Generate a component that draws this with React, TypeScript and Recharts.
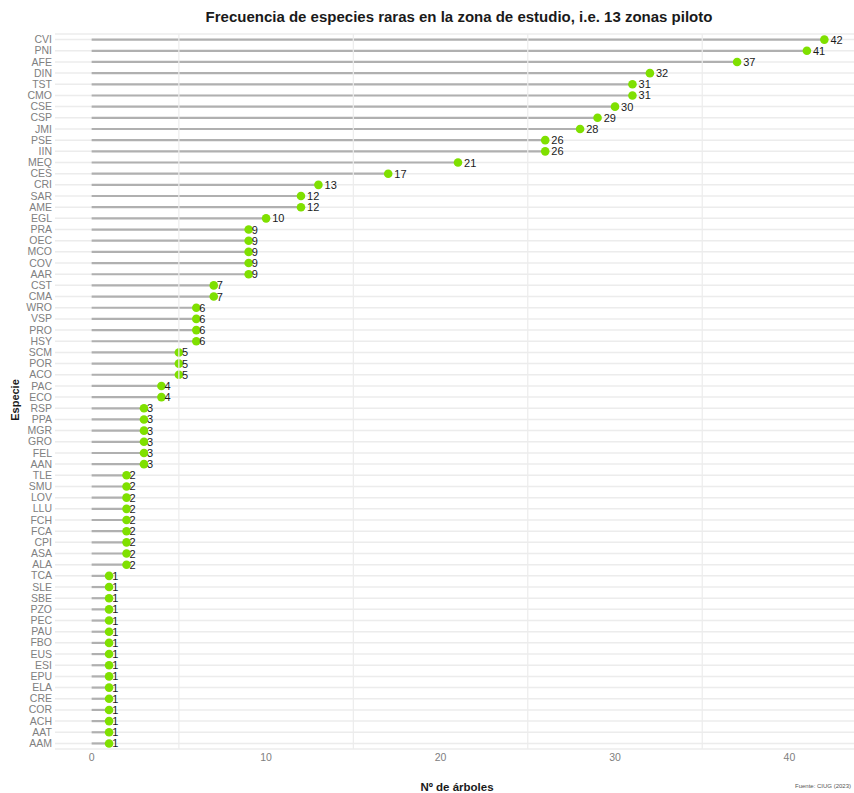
import { ComposedChart, Bar, XAxis, YAxis, CartesianGrid, ReferenceLine, LabelList } from 'recharts';

const species = [
  'CVI', 'PNI', 'AFE', 'DIN', 'TST', 'CMO', 'CSE', 'CSP', 'JMI', 'PSE', 'IIN', 'MEQ', 'CES', 'CRI', 'SAR', 'AME',
  'EGL', 'PRA', 'OEC', 'MCO', 'COV', 'AAR', 'CST', 'CMA', 'WRO', 'VSP', 'PRO', 'HSY', 'SCM', 'POR', 'ACO', 'PAC',
  'ECO', 'RSP', 'PPA', 'MGR', 'GRO', 'FEL', 'AAN', 'TLE', 'SMU', 'LOV', 'LLU', 'FCH', 'FCA', 'CPI', 'ASA', 'ALA',
  'TCA', 'SLE', 'SBE', 'PZO', 'PEC', 'PAU', 'FBO', 'EUS', 'ESI', 'EPU', 'ELA', 'CRE', 'COR', 'ACH', 'AAT', 'AAM',
];

const counts = [
  42, 41, 37, 32, 31, 31, 30, 29, 28, 26, 26, 21, 17, 13, 12, 12,
  10, 9, 9, 9, 9, 9, 7, 7, 6, 6, 6, 6, 5, 5, 5, 4,
  4, 3, 3, 3, 3, 3, 3, 2, 2, 2, 2, 2, 2, 2, 2, 2,
  1, 1, 1, 1, 1, 1, 1, 1, 1, 1, 1, 1, 1, 1, 1, 1,
];

const xTicks = [0, 10, 20, 30, 40];
const minorGrid = [5, 15, 25, 35];

const data = species.map((s, i) => ({ species: s, count: counts[i] }));

const Lollipop = (props: any) => {
  const { x, y, width, height } = props;
  const cy = y + height / 2;
  return (
    <g>
      <line x1={x} y1={cy} x2={x + width} y2={cy} stroke="#b0b0b0" strokeWidth={2.2} />
      <circle cx={x + width} cy={cy} r={4.3} fill="#7fe000" />
    </g>
  );
};

const ValueLabel = (props: any) => {
  const { x, y, width, height, value } = props;
  const w = String(value).length * 6.1;
  return (
    <text x={x + width + w * 0.5} y={y + height / 2} dy={4} fontSize={11} fill="#1a1a1a" textAnchor="start">
      {value}
    </text>
  );
};

const YTick = (props: any) => {
  const { y, payload } = props;
  return (
    <text x={52} y={y} dy={3.6} fontSize={10.5} fill="#808080" textAnchor="end">
      {payload.value}
    </text>
  );
};

const XTick = (props: any) => {
  const { x, payload } = props;
  return (
    <text x={x} y={761} fontSize={10.5} fill="#808080" textAnchor="middle">
      {payload.value}
    </text>
  );
};

export default function App() {
  return (
    <div style={{ position: 'absolute', left: 0, top: 0, width: 854, height: 793, background: '#fff', fontFamily: '"Liberation Sans", Arial, sans-serif' }}>
      <ComposedChart width={854} height={793} data={data} layout="vertical" margin={{ top: 34, right: 0, bottom: 0, left: 0 }}>
        <CartesianGrid vertical={false} stroke="#ececec" strokeWidth={1.5} />
        {minorGrid.map((v) => (
          <ReferenceLine key={v} x={v} stroke="#ececec" strokeWidth={1.2} />
        ))}
        <XAxis type="number" domain={[-2.1, 43.7]} ticks={xTicks} height={44} axisLine={false} tickLine={false} tick={<XTick />} allowDataOverflow />
        <YAxis type="category" dataKey="species" width={55} interval={0} axisLine={false} tickLine={false} tick={<YTick />} />
        <Bar dataKey="count" isAnimationActive={false} shape={<Lollipop />}>
          <LabelList dataKey="count" content={<ValueLabel />} />
        </Bar>
        <text x={459} y={22} fontSize={15} fontWeight="bold" fill="#1a1a1a" textAnchor="middle">
          Frecuencia de especies raras en la zona de estudio, i.e. 13 zonas piloto
        </text>
        <text x={19} y={400} fontSize={11} fontWeight="bold" fill="#1a1a1a" textAnchor="middle" transform="rotate(-90 19 400)">
          Especie
        </text>
        <text x={457} y={791} fontSize={11.5} fontWeight="bold" fill="#1a1a1a" textAnchor="middle">
          Nº de árboles
        </text>
        <text x={795} y={788} fontSize={6} fill="#555">
          Fuente: CIUG (2023)
        </text>
      </ComposedChart>
    </div>
  );
}
